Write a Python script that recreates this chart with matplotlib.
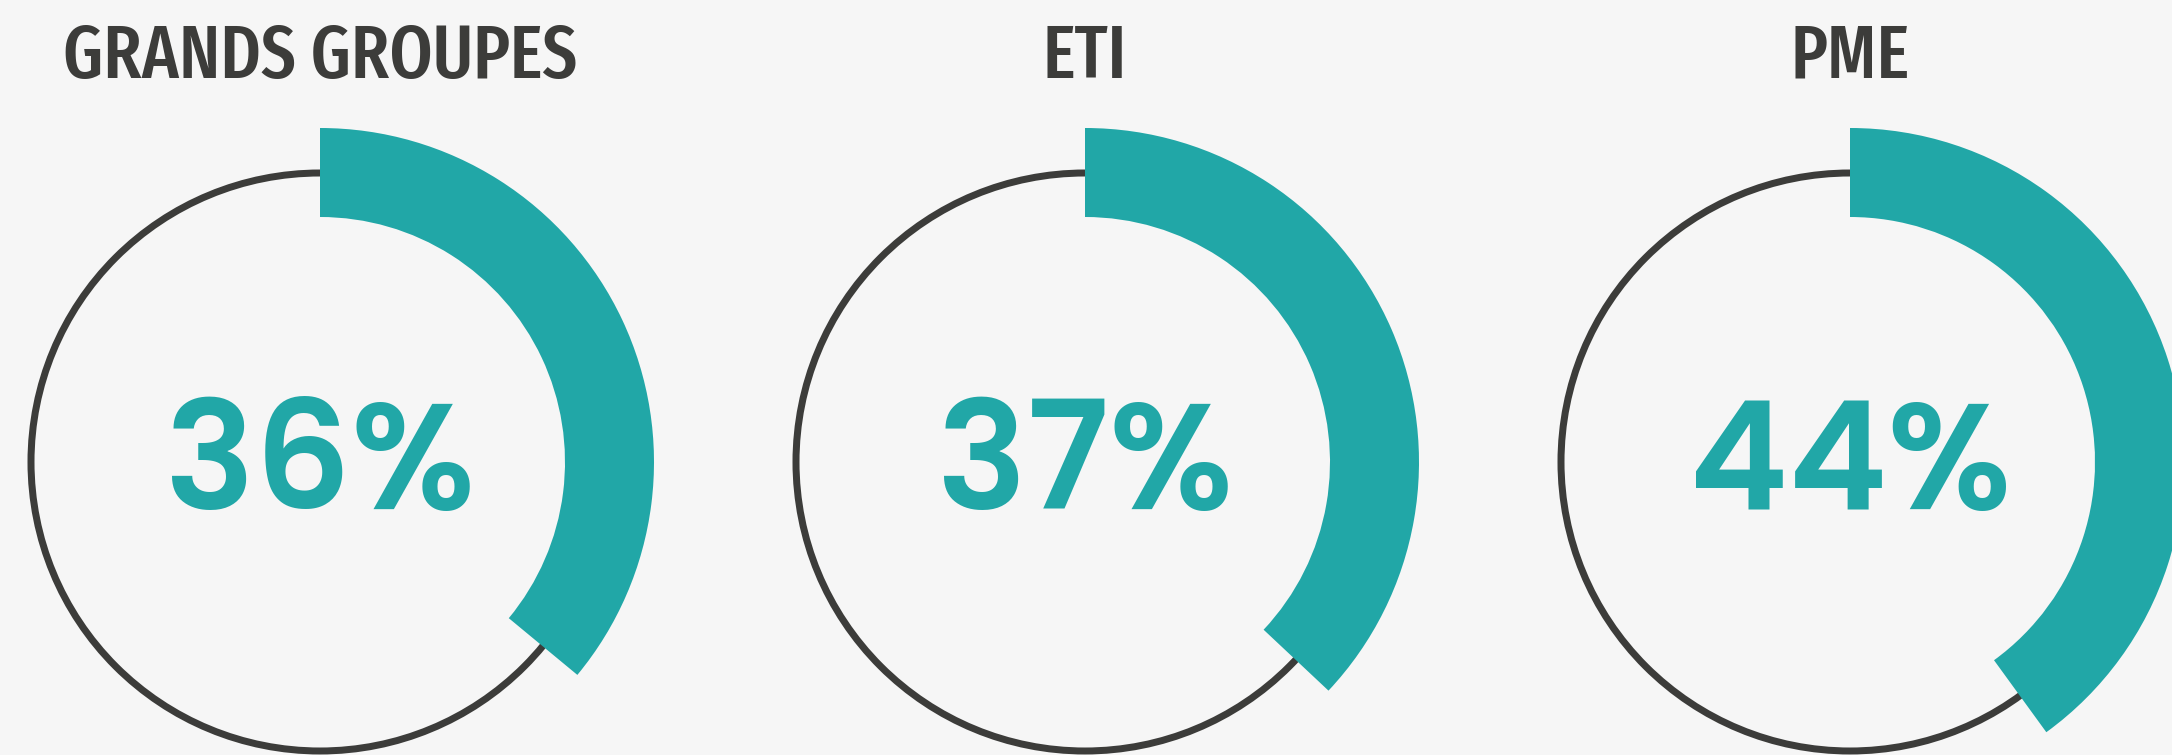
import matplotlib
matplotlib.use("Agg")
import matplotlib.pyplot as plt
from matplotlib import font_manager
from matplotlib.patches import Circle, Wedge

# data
CATEGORIES = ["GRANDS GROUPES", "ETI", "PME"]
LABEL_PCT = [36, 37, 44]
ARC_PCT = [36, 37, 40]  # arc extent as drawn in the source graphic

TEAL = "#21a7a7"
DARK = "#3c3c3a"
BG = "#f6f6f6"

W, H = 2172, 755
CX0, STEP, CY = 320, 765, H - 462
RING_R = 289
ARC_OUTER, ARC_WIDTH = 334, 89

available = {f.name for f in font_manager.fontManager.ttflist}
title_family = [f for f in ["Fira Sans Extra Condensed", "Barlow Condensed", "DejaVu Sans"] if f in available]
num_family = [f for f in ["Poppins", "Lato", "DejaVu Sans"] if f in available]

fig = plt.figure(figsize=(W / 100, H / 100), dpi=100, facecolor=BG)
ax = fig.add_axes([0, 0, 1, 1])
ax.set_xlim(0, W)
ax.set_ylim(0, H)
ax.set_aspect("equal")
ax.axis("off")
ax.set_facecolor(BG)

for i, (cat, lab, arc) in enumerate(zip(CATEGORIES, LABEL_PCT, ARC_PCT)):
    cx = CX0 + i * STEP
    ax.add_patch(Circle((cx, CY), RING_R, fill=False, lw=7 * 0.72, ec=DARK, zorder=1))
    ax.add_patch(Wedge((cx, CY), ARC_OUTER, 90 - 360 * arc / 100, 90,
                       width=ARC_WIDTH, fc=TEAL, ec="none", zorder=2))
    ax.text(cx, H - 509, f"{lab}%", ha="center", va="baseline", color=TEAL,
            fontsize=108, fontweight=600, family=num_family)
    ax.text(cx, H - 78, cat, ha="center", va="baseline", color=DARK,
            fontsize=54, fontweight=500, family=title_family)

fig.savefig("out.png", dpi=100, facecolor=BG)
